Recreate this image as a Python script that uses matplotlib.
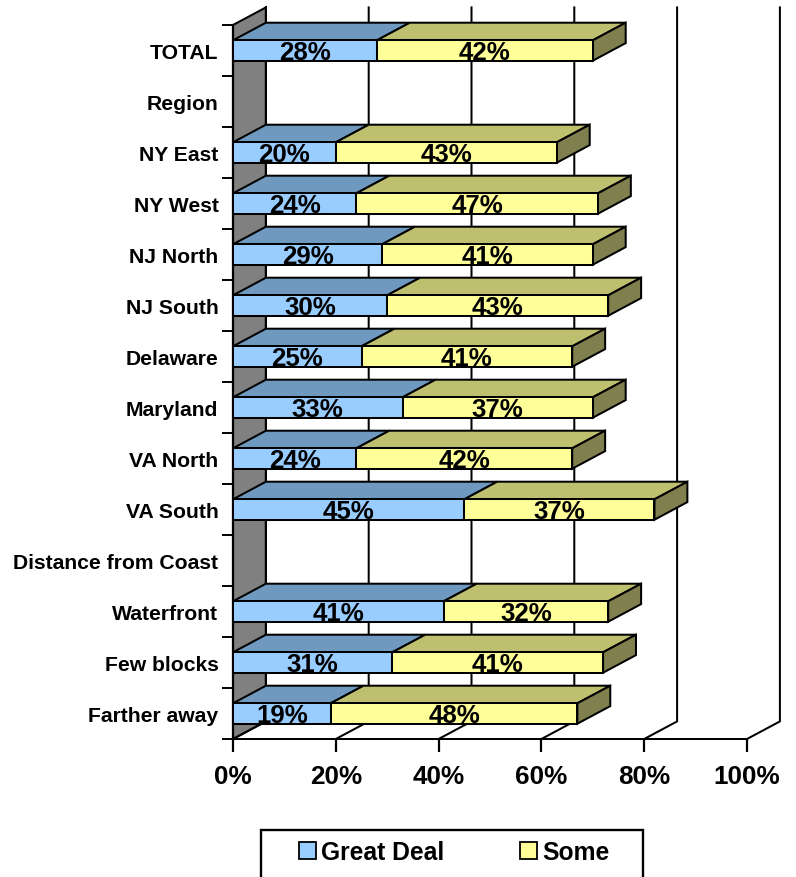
import matplotlib
matplotlib.use('Agg')
import matplotlib.pyplot as plt
from matplotlib.patches import Polygon, Rectangle, Patch

plt.rcParams['font.family'] = ['Liberation Sans', 'DejaVu Sans']
plt.rcParams['font.weight'] = 'bold'

# Survey answers, percent of respondents (None = heading row with no bar)
categories = ['TOTAL', 'Region', 'NY East', 'NY West', 'NJ North', 'NJ South', 'Delaware',
              'Maryland', 'VA North', 'VA South', 'Distance from Coast', 'Waterfront',
              'Few blocks', 'Farther away']
great_deal = [28, None, 20, 24, 29, 30, 25, 33, 24, 45, None, 41, 31, 19]
some = [42, None, 43, 47, 41, 43, 41, 37, 42, 37, None, 32, 41, 48]
x_ticks = [0, 20, 40, 60, 80, 100]

BLUE, BLUE_TOP = '#99CCFF', '#6F99BF'
YELLOW, YELLOW_TOP = '#FFFF99', '#BFBF70'
SIDE = '#80804E'
WALL = '#808080'
LW = 1.45

# fake 3D offset, in data units
DX = 6.4
DY = 0.345
BAR_H = 0.4

fig = plt.figure(figsize=(7.96, 8.78), dpi=100)
ax = fig.add_axes([233 / 796, (878 - 740) / 878, (747 - 233) / 796, (740 - 26) / 878])
ax.set_xlim(0, 100)
ax.set_ylim(13.5, -0.5)
for s in ['top', 'right', 'bottom', 'left']:
    ax.spines[s].set_visible(False)


def poly(pts, fc, z):
    ax.add_patch(Polygon(pts, closed=True, facecolor=fc, edgecolor='black', linewidth=LW,
                         zorder=z, clip_on=False, joinstyle='miter'))


# back wall on the left
poly([(0, -0.5), (DX, -0.5 - DY), (DX, 13.5 - DY), (0, 13.5)], WALL, 1)

# grid on the back plane and on the floor
for t in x_ticks:
    ax.plot([t, t + DX, t + DX], [13.5, 13.5 - DY, -0.5 - DY], color='black', lw=LW,
            zorder=1.5, clip_on=False, solid_joinstyle='miter')
ax.plot([0, 100], [13.5, 13.5], color='black', lw=LW, zorder=1.5, clip_on=False)
ax.plot([DX, DX], [-0.5 - DY, 13.5 - DY], color='black', lw=LW, zorder=1.6, clip_on=False)
ax.plot([0, 0], [-0.5, 13.5], color='black', lw=1.6, zorder=1.7, clip_on=False)

# rows from the bottom up so the upper ones sit on top
for i in range(len(categories) - 1, -1, -1):
    a, b = great_deal[i], some[i]
    if a is None:
        continue
    y0, y1 = i - BAR_H / 2, i + BAR_H / 2
    z = 2 + (len(categories) - i) * 0.1
    poly([(0, y0), (DX, y0 - DY), (a + DX, y0 - DY), (a, y0)], BLUE_TOP, z)
    poly([(a, y0), (a + DX, y0 - DY), (a + b + DX, y0 - DY), (a + b, y0)], YELLOW_TOP, z)
    poly([(a + b, y0), (a + b + DX, y0 - DY), (a + b + DX, y1 - DY), (a + b, y1)], SIDE, z)
    ax.barh(i, a, height=BAR_H, color=BLUE, edgecolor='black', linewidth=LW, zorder=z)
    ax.barh(i, b, left=a, height=BAR_H, color=YELLOW, edgecolor='black', linewidth=LW, zorder=z)
    ax.text(a / 2, i + 0.02, f'{a}%', ha='center', va='center', fontsize=18.6, color='black', zorder=10)
    ax.text(a + b / 2, i + 0.02, f'{b}%', ha='center', va='center', fontsize=18.6, color='black', zorder=10)

# tick marks between rows, labels at row centres
ax.set_yticks(range(len(categories)))
ax.set_yticklabels(categories, fontsize=15.2, fontweight='bold')
ax.tick_params(axis='y', which='major', length=0, pad=10.5)
ax.set_yticks([i - 0.5 for i in range(len(categories) + 1)], minor=True)
ax.tick_params(axis='y', which='minor', length=8, width=1.4, color='black')

ax.set_xticks(x_ticks)
ax.set_xticklabels([f'{t}%' for t in x_ticks], fontsize=18.8, fontweight='bold')
ax.tick_params(axis='x', length=9, width=1.6, pad=9)

# legend box runs off the bottom edge of the figure
fig.add_artist(Rectangle((261 / 796, -0.01), (643 - 261) / 796, (878 - 831) / 878 + 0.01,
                         transform=fig.transFigure, facecolor='white', edgecolor='black', linewidth=1.7))
handles = [Patch(facecolor=BLUE, edgecolor='black', linewidth=1.3, label='Great Deal'),
           Patch(facecolor=YELLOW, edgecolor='black', linewidth=1.3, label='Some')]
leg = fig.legend(handles=handles, ncols=2, loc='center left', frameon=False,
                 bbox_to_anchor=(289 / 796, (878 - 853) / 878), borderaxespad=0,
                 prop={'size': 17.7, 'weight': 'bold'}, handlelength=0.7, handleheight=0.7,
                 handletextpad=0.22, columnspacing=3.05)

fig.savefig('out.png', dpi=100)
